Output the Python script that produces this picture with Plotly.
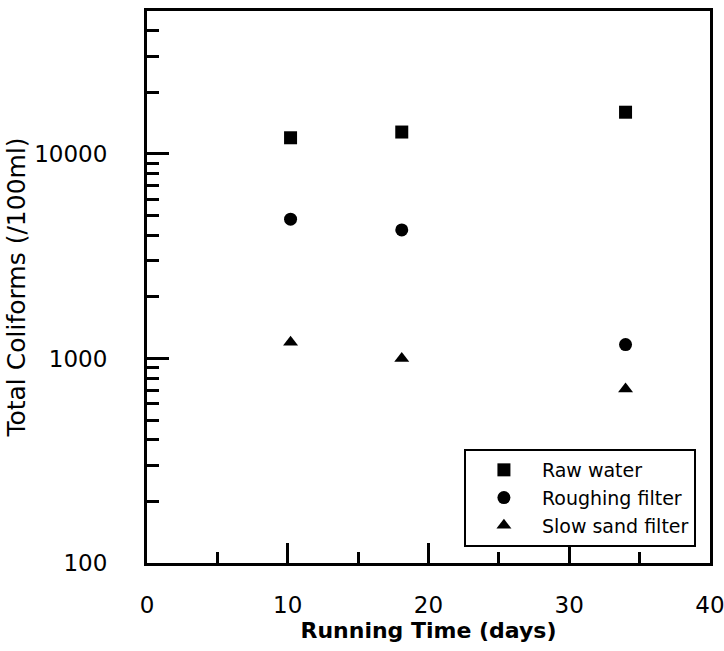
import plotly.graph_objects as go

days = [10.2, 18.1, 34.0]
raw_water = [12000, 12800, 16000]
roughing_filter = [4800, 4250, 1170]
slow_sand_filter = [1200, 1000, 710]

x_major = [0, 10, 20, 30, 40]
x_minor = [5, 15, 25, 35]
y_major = [100, 1000, 10000]
y_minor = [200, 300, 400, 500, 600, 700, 800, 900,
           2000, 3000, 4000, 5000, 6000, 7000, 8000, 9000,
           20000, 30000, 40000]

FONT = "DejaVu Sans"

fig = go.Figure()
series = [
    ("Raw water", raw_water, "square"),
    ("Roughing filter", roughing_filter, "circle"),
    ("Slow sand filter", slow_sand_filter, "triangle-up"),
]
for name, vals, sym in series:
    fig.add_trace(go.Scatter(
        x=days, y=vals, mode="markers", name=name,
        marker=dict(symbol=sym, size=13, color="black"),
    ))

fig.update_layout(
    width=724, height=651,
    margin=dict(l=147, r=14, t=11, b=88),
    paper_bgcolor="white", plot_bgcolor="white",
    font=dict(family=FONT, color="black"),
    showlegend=True,
    legend=dict(
        x=0.975, y=0.029, xanchor="right", yanchor="bottom",
        bordercolor="black", borderwidth=2, bgcolor="white",
        font=dict(family=FONT, size=19, color="black"),
        itemwidth=66, tracegroupgap=0,
    ),
)

fig.update_xaxes(
    range=[0, 40.0001], showgrid=False, zeroline=False, automargin=False,
    showline=True, linecolor="black", linewidth=3, mirror=True,
    tickmode="array", tickvals=x_major, ticktext=[str(v) for v in x_major],
    ticks="inside", ticklen=20, tickwidth=3, tickcolor="black",
    tickfont=dict(family=FONT, size=23),
    ticklabelstandoff=19, ticklabeloverflow="allow",
    minor=dict(tickvals=x_minor, ticks="inside", ticklen=11, tickwidth=2.5, tickcolor="black"),
    title=dict(text="<b>Running Time (days)</b>", font=dict(family=FONT, size=22), standoff=5),
)
fig.update_yaxes(
    type="log", range=[2, 4.699], showgrid=False, zeroline=False, automargin=False,
    showline=True, linecolor="black", linewidth=3, mirror=True,
    tickmode="array", tickvals=y_major, ticktext=[str(v) for v in y_major],
    ticks="inside", ticklen=22, tickwidth=3, tickcolor="black",
    tickfont=dict(family=FONT, size=23),
    ticklabelstandoff=32, ticklabeloverflow="allow",
    minor=dict(tickvals=y_minor, ticks="inside", ticklen=12, tickwidth=2.5, tickcolor="black"),
    title=dict(text="Total Coliforms (/100ml)", font=dict(family=FONT, size=25), standoff=2),
)

fig.write_html("out.html")
